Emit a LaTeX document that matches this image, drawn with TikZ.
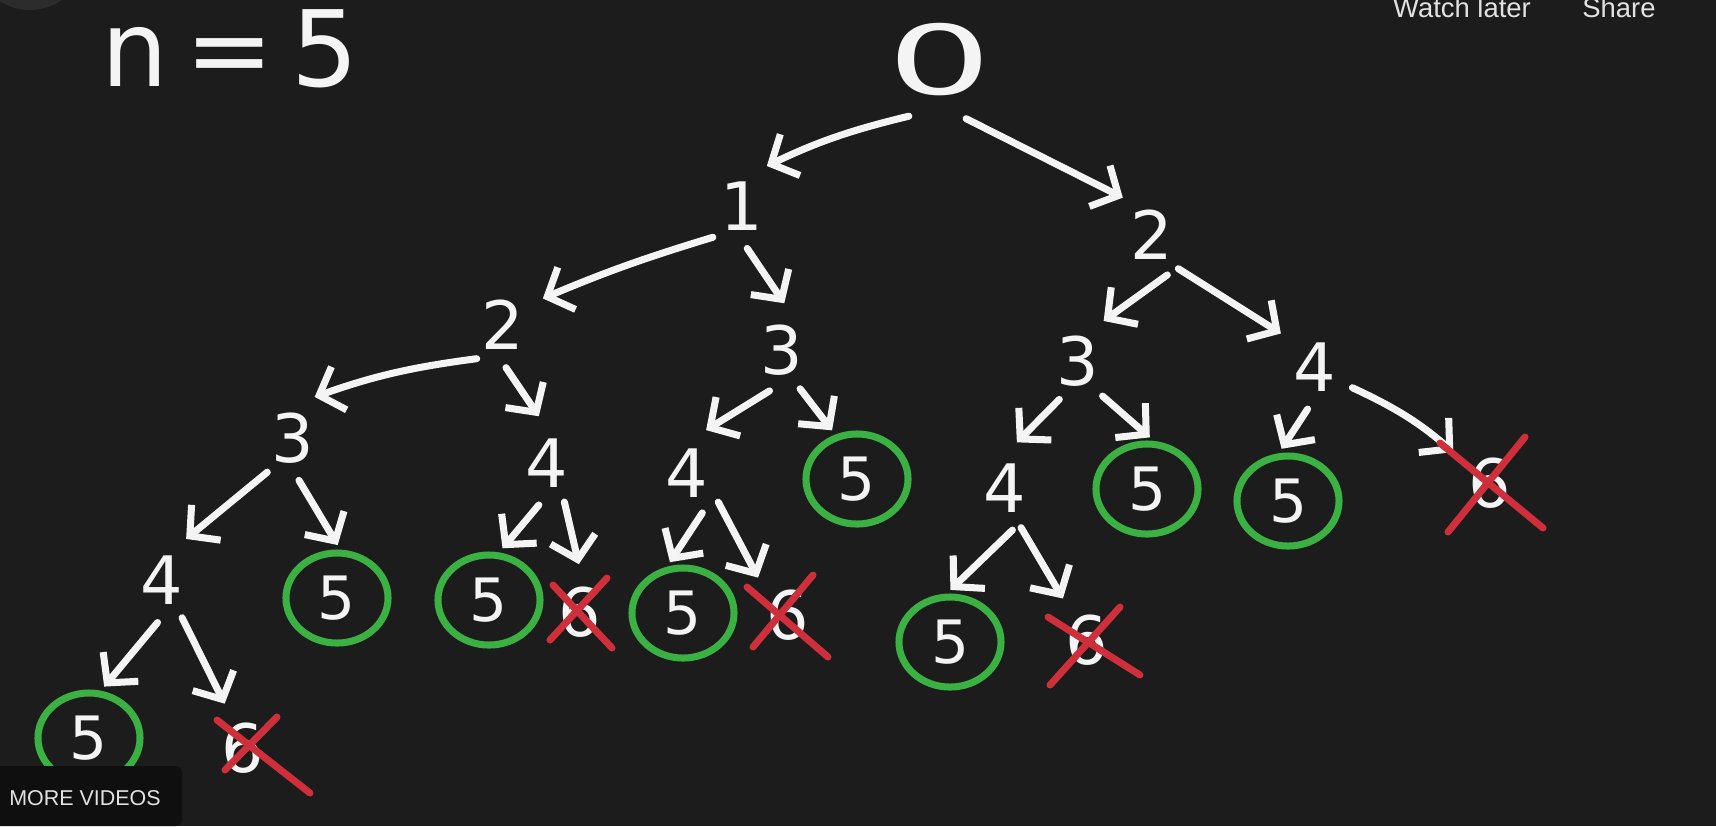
\documentclass[tikz,border=0pt]{standalone}
\usepackage{fontspec}
\setsansfont{DejaVu Sans}
\newfontfamily\uifont{Liberation Sans}
\usetikzlibrary{arrows.meta,shapes.geometric,positioning}
\definecolor{board}{HTML}{1C1C1C}
\definecolor{chalk}{HTML}{F4F4F4}
\definecolor{base green}{HTML}{3BB143}
\definecolor{prune red}{HTML}{CF2F3A}
\definecolor{strip}{HTML}{0F0F0F}
\definecolor{avatar}{HTML}{2C2C2C}
\definecolor{ui grey}{HTML}{E2E2E2}

\begin{document}
\begin{tikzpicture}
  [x=0.01cm, y=-0.01cm, call/.style = {shape=circle, minimum
    size=0.84cm, inner sep=0pt, text=chalk,
    font=\sffamily\fontsize{19}{22}\selectfont}, base case/.style =
  {call, shape=ellipse, draw=base green, line width=2pt, minimum
    width=1.02cm, minimum height=0.9cm,
    font=\sffamily\fontsize{17}{20}\selectfont}, branch/.style={->,
    >={Straight Barb[length=6pt,width=13pt]}, chalk, line width=2pt,
    line cap=round, line join=round, shorten >=1.5pt},
  prune mark/.style={prune red, line width=2pt, line cap=round},
  yt label/.style={text=ui grey, inner sep=0pt, anchor=base}]

  \fill[board] (0,0) rectangle (1716,826);
  \clip (0,0) rectangle (1716,826);
  \fill[avatar] (30,-45) circle [radius=0.55cm];

  \node [text=chalk, inner sep=0pt, anchor=base,
  font=\sffamily\fontsize{30}{34}\selectfont] (size) at (230,86)
  {n\,=\,5};

  % the call tree
  \node [call, minimum size=1cm, font=\sffamily\fontsize{26}{30}\selectfont]
  (root) at (940,60) {\scalebox{1.8}[1.05]{0}};
  \node [call] (n1) at (742,206) {1};
  \node [call] (n2R) at (1152,235) {2};
  \node [call] (n2L) at (503,325) {2};
  \node [call] (n3M) at (782,350) {3};
  \node [call] (n3R) at (1078,361) {3};
  \node [call] (n4R) at (1315,367) {4};
  \node [call] (n3L) at (293,438) {3};
  \node [call] (n4a) at (547,463) {4};
  \node [call] (n4b) at (687,473) {4};
  \node [call] (n4c) at (1005,488) {4};
  \node [call] (n4L) at (162,580) {4};
  \node [base case] (g5a) at (857,479) {5};
  \node [base case] (g5b) at (1147,489) {5};
  \node [base case] (g5c) at (1288,501) {5};
  \node [base case] (g5d) at (337,598) {5};
  \node [base case] (g5e) at (489,600) {5};
  \node [base case] (g5f) at (683,613) {5};
  \node [base case] (g5g) at (950,642) {5};
  \node [base case] (g5h) at (89,738) {5};
  \node [call] (x6a) at (1490,483) {6};
  \node [call] (x6b) at (580,612) {6};
  \node [call] (x6c) at (788,615) {6};
  \node [call] (x6d) at (1087,640) {6};
  \node [call] (x6e) at (243,748) {6};

  \draw[branch] (root.241) to[bend right=6] (n1.62);
  \draw[branch] (root.294) -- (n2R.125);
  \draw[branch] (n1.227) to[bend right=3] (n2L.35);
  \draw[branch] (n1.277) -- (n3M.83);
  \draw[branch] (n2R.291) -- (n3R.60);
  \draw[branch] (n2R.308) -- (n4R.134);
  \draw[branch] (n2L.232) to[bend right=6] (n3L.67);
  \draw[branch] (n2L.274) -- (n4a.97);
  \draw[branch] (n3M.253) -- (n4b.70);
  \draw[branch] (n3M.295) -- (g5a.116);
  \draw[branch] (n3R.244) -- (n4c.79);
  \draw[branch] (n3R.305) -- (g5b.82);
  \draw[branch] (n4R.260) -- (g5c.101);
  \draw[branch] (n4R.331) to[bend left=8] (x6a.140);
  \draw[branch] (n3L.233) -- (n4L.62);
  \draw[branch] (n3L.278) -- (g5d.86);
  \draw[branch] (n4a.259) -- (g5e.78);
  \draw[branch] (n4a.294) -- (x6b.90);
  \draw[branch] (n4b.291) -- (g5f.109);
  \draw[branch] (n4b.317) -- (x6c.130);
  \draw[branch] (n4c.280) -- (g5g.94);
  \draw[branch] (n4c.292) -- (x6d.120);
  \draw[branch] (n4L.264) -- (g5h.76);
  \draw[branch] (n4L.298) -- (x6e.112);

  % pruned calls
  \foreach \n/\p/\q/\r/\s in {x6a/{-50,-40}/{53,45}/{35,-46}/{-42,49},
    x6b/{-27,-27}/{32,36}/{27,-34}/{-30,28},
    x6c/{-41,-28}/{40,42}/{25,-40}/{-35,32},
    x6d/{-39,-23}/{53,35}/{33,-33}/{-37,45},
    x6e/{-26,-28}/{67,45}/{34,-31}/{-18,22}}
  \draw[prune mark] ([shift={(\p)}]\n.center) -- ([shift={(\q)}]\n.center)
  ([shift={(\r)}]\n.center) -- ([shift={(\s)}]\n.center);

  % player overlay
  \node [yt label, font=\uifont\fontsize{7.8}{9}\selectfont] (watch) at
  (1462,17) {Watch later};
  \node [yt label, font=\uifont\fontsize{7.8}{9}\selectfont] (share) at
  (1619,17) {Share};
  \fill[strip] (0,826) -- (0,766) [rounded corners=0.06cm] -- (182,766)
  -- (182,826) [sharp corners] -- cycle;
  \node [yt label, font=\uifont\fontsize{6.1}{7}\selectfont] (more) at
  (85,805) {MORE VIDEOS};
\end{tikzpicture}
\end{document}
